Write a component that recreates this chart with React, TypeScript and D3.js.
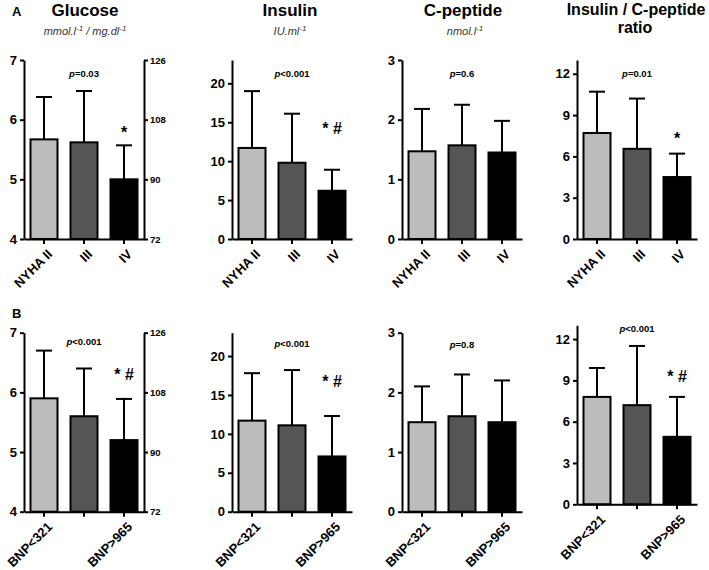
import * as d3 from "d3";
import { useRef, useEffect } from "react";

// groups & colours
const nyhaGroups = ["NYHA II", "III", "IV"];
const bnpGroups = ["BNP<321", "", "BNP>965"];
const barFills = ["#bcbcbc", "#555555", "#000000"];

// panel A (NYHA class) — mean and SD
const glucoseA = [5.67, 5.62, 5.0];
const glucoseASd = [0.71, 0.86, 0.57];
const insulinA = [11.7, 9.8, 6.2];
const insulinASd = [7.3, 6.3, 2.7];
const cpepA = [1.47, 1.57, 1.45];
const cpepASd = [0.71, 0.68, 0.53];
const ratioA = [7.7, 6.55, 4.5];
const ratioASd = [3.0, 3.65, 1.7];

// panel B (BNP tertiles)
const glucoseB = [5.9, 5.6, 5.2];
const glucoseBSd = [0.8, 0.8, 0.69];
const insulinB = [11.7, 11.1, 7.1];
const insulinBSd = [6.1, 7.1, 5.2];
const cpepB = [1.5, 1.6, 1.5];
const cpepBSd = [0.6, 0.7, 0.7];
const ratioB = [7.8, 7.2, 4.9];
const ratioBSd = [2.1, 4.3, 2.9];

// axis ticks
const glucoseTicks = [4, 5, 6, 7];
const glucoseMgTicks = [72, 90, 108, 126];
const insulinTicks = [0, 5, 10, 15, 20];
const cpepTicks = [0, 1, 2, 3];
const ratioTicks = [0, 3, 6, 9, 12];

// annotations
const pLabelsA = ["=0.03", "<0.001", "=0.6", "=0.01"];
const pLabelsB = ["<0.001", "<0.001", "=0.8", "<0.001"];
const sigLabelsA = ["*", "* #", "", "*"];
const sigLabelsB = ["* #", "* #", "", "* #"];
const sigValuesA = [5.69, 13.5, 0, 6.9];
const sigValuesB = [6.21, 16.0, 0, 8.9];

const FONT = "'Liberation Sans', Arial, sans-serif";
const PLOT_H = 179;
const PLOT_W = 120;

type PanelProps = {
  left: number;
  base: number;
  domain: [number, number];
  ticks: number[];
  rightTicks?: number[];
  groups: string[];
  means: number[];
  sds: number[];
  pLabel: string;
  pY: number;
  sig: string;
  sigValue: number;
};

function Panel({ left, base, domain, ticks, rightTicks, groups, means, sds, pLabel, pY, sig, sigValue }: PanelProps) {
  const gy = useRef<SVGGElement | null>(null);
  const gr = useRef<SVGGElement | null>(null);
  const gx = useRef<SVGGElement | null>(null);

  const x = d3.scaleBand<number>()
    .domain(d3.range(means.length))
    .range([left, left + PLOT_W])
    .paddingInner(0.325)
    .paddingOuter(0.1625);
  const y = d3.scaleLinear().domain(domain).range([base, base - PLOT_H]);
  const yR = d3.scaleLinear().domain([domain[0] * 18, domain[1] * 18]).range([base, base - PLOT_H]);

  useEffect(() => {
    const style = (g: d3.Selection<SVGGElement, unknown, null, undefined>, size: number) => {
      g.select(".domain").attr("stroke-width", 2);
      g.selectAll(".tick line").attr("stroke-width", 2);
      g.selectAll(".tick text")
        .attr("font-family", FONT)
        .attr("font-weight", "bold")
        .attr("font-size", size)
        .attr("fill", "#000");
    };
    const fmt = d3.format("~g");
    if (gy.current) {
      const g = d3.select(gy.current);
      g.call(d3.axisLeft(y).tickValues(ticks).tickFormat((d) => fmt(d as number)).tickSize(4).tickSizeOuter(0).tickPadding(3));
      style(g, 13);
    }
    if (gr.current && rightTicks) {
      const g = d3.select(gr.current);
      g.call(d3.axisRight(yR).tickValues(rightTicks).tickFormat((d) => fmt(d as number)).tickSize(4).tickSizeOuter(0).tickPadding(2));
      style(g, 9.5);
    }
    if (gx.current) {
      const g = d3.select(gx.current);
      g.call(d3.axisBottom(x).tickSize(5).tickSizeOuter(0).tickFormat(() => ""));
      style(g, 12);
    }
  });

  const bw = x.bandwidth();
  const cx = (i: number) => (x(i) ?? 0) + bw / 2;

  return (
    <g>
      {means.map((m, i) => (
        <g key={i}>
          <line x1={cx(i)} x2={cx(i)} y1={y(m)} y2={y(m + sds[i])} stroke="#000" strokeWidth={2} />
          <line x1={cx(i) - 8} x2={cx(i) + 8} y1={y(m + sds[i])} y2={y(m + sds[i])} stroke="#000" strokeWidth={2} />
          <rect x={x(i)} y={y(m)} width={bw} height={base - y(m)} fill={barFills[i]} stroke="#000" strokeWidth={2} />
        </g>
      ))}
      <g ref={gx} transform={`translate(0,${base})`} />
      <g ref={gy} transform={`translate(${left},0)`} />
      {rightTicks && <g ref={gr} transform={`translate(${left + PLOT_W},0)`} />}
      {groups.map((g, i) => (
        <text
          key={i}
          transform={`translate(${cx(i) + 9},${base + 16}) rotate(-45)`}
          textAnchor="end"
          fontFamily={FONT}
          fontWeight="bold"
          fontSize={13}
        >
          {g}
        </text>
      ))}
      <text x={cx(1)} y={pY} textAnchor="middle" fontFamily={FONT} fontWeight="bold" fontSize={9.5}>
        <tspan fontStyle="italic">p</tspan>
        {pLabel}
      </text>
      {sig && (
        <text x={cx(2)} y={y(sigValue)} textAnchor="middle" fontFamily={FONT} fontWeight="bold" fontSize={16}>
          {sig}
        </text>
      )}
    </g>
  );
}

const panelLefts = [24, 232, 402, 577];
const titles = ["Glucose", "Insulin", "C-peptide"];
const titleCenters = [85, 290, 463];

export default function App() {
  const baseA = 239;
  const baseB = 511.7;
  const baseBRatio = 504.3;
  return (
    <div style={{ position: "absolute", left: 0, top: 0 }}>
      <svg width={709} height={570} style={{ display: "block", background: "#fff" }}>
        <text x={12} y={16} fontFamily={FONT} fontWeight="bold" fontSize={13}>A</text>
        <text x={12} y={318} fontFamily={FONT} fontWeight="bold" fontSize={13}>B</text>
        {titles.map((t, i) => (
          <text key={t} x={titleCenters[i]} y={16} textAnchor="middle" fontFamily={FONT} fontWeight="bold" fontSize={17}>
            {t}
          </text>
        ))}
        <text x={636} y={15} textAnchor="middle" fontFamily={FONT} fontWeight="bold" fontSize={16}>Insulin / C-peptide</text>
        <text x={635} y={33} textAnchor="middle" fontFamily={FONT} fontWeight="bold" fontSize={16}>ratio</text>
        <g fontFamily={FONT} fontStyle="italic" fontSize={11} fill="#333" textAnchor="middle">
          <text x={85} y={35}>
            mmol.l<tspan dy={-4} fontSize={8}>-1</tspan><tspan dy={4}> / mg.dl</tspan><tspan dy={-4} fontSize={8}>-1</tspan>
          </text>
          <text x={290} y={35}>
            IU.ml<tspan dy={-4} fontSize={8}>-1</tspan>
          </text>
          <text x={465} y={35}>
            nmol.l<tspan dy={-4} fontSize={8}>-1</tspan>
          </text>
        </g>

        <Panel left={panelLefts[0]} base={baseA} domain={[4, 7]} ticks={glucoseTicks} rightTicks={glucoseMgTicks}
          groups={nyhaGroups} means={glucoseA} sds={glucoseASd} pLabel={pLabelsA[0]} pY={77} sig={sigLabelsA[0]} sigValue={sigValuesA[0]} />
        <Panel left={panelLefts[1]} base={baseA} domain={[0, 23]} ticks={insulinTicks}
          groups={nyhaGroups} means={insulinA} sds={insulinASd} pLabel={pLabelsA[1]} pY={77} sig={sigLabelsA[1]} sigValue={sigValuesA[1]} />
        <Panel left={panelLefts[2]} base={baseA} domain={[0, 3]} ticks={cpepTicks}
          groups={nyhaGroups} means={cpepA} sds={cpepASd} pLabel={pLabelsA[2]} pY={77} sig={sigLabelsA[2]} sigValue={sigValuesA[2]} />
        <Panel left={panelLefts[3]} base={baseA} domain={[0, 13]} ticks={ratioTicks}
          groups={nyhaGroups} means={ratioA} sds={ratioASd} pLabel={pLabelsA[3]} pY={77} sig={sigLabelsA[3]} sigValue={sigValuesA[3]} />

        <Panel left={panelLefts[0]} base={baseB} domain={[4, 7]} ticks={glucoseTicks} rightTicks={glucoseMgTicks}
          groups={bnpGroups} means={glucoseB} sds={glucoseBSd} pLabel={pLabelsB[0]} pY={345} sig={sigLabelsB[0]} sigValue={sigValuesB[0]} />
        <Panel left={panelLefts[1]} base={baseB} domain={[0, 23]} ticks={insulinTicks}
          groups={bnpGroups} means={insulinB} sds={insulinBSd} pLabel={pLabelsB[1]} pY={347} sig={sigLabelsB[1]} sigValue={sigValuesB[1]} />
        <Panel left={panelLefts[2]} base={baseB} domain={[0, 3]} ticks={cpepTicks}
          groups={bnpGroups} means={cpepB} sds={cpepBSd} pLabel={pLabelsB[2]} pY={348} sig={sigLabelsB[2]} sigValue={sigValuesB[2]} />
        <Panel left={panelLefts[3]} base={baseBRatio} domain={[0, 13]} ticks={ratioTicks}
          groups={bnpGroups} means={ratioB} sds={ratioBSd} pLabel={pLabelsB[3]} pY={332} sig={sigLabelsB[3]} sigValue={sigValuesB[3]} />
      </svg>
    </div>
  );
}
